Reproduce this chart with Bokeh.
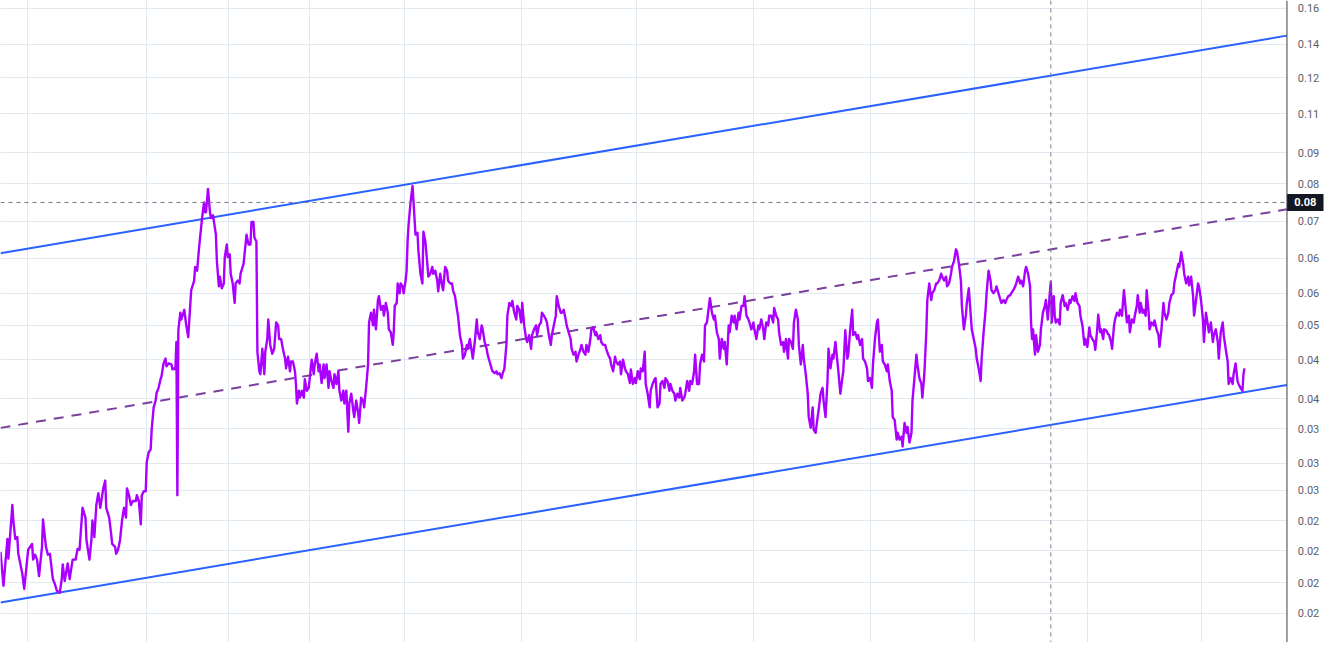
from bokeh.plotting import figure
from bokeh.models import Range1d, FixedTicker, Span, Grid, BoxAnnotation
from bokeh.core.properties import value
from bokeh.embed import file_html
from bokeh.resources import INLINE

# ---- price series (bar index, price) ----
seg_a_bar = [0,3,7,8,12,13,15,17,18,22,24,27,28,32,33,35,37,39,42,43,46,48,50,53,55,57,60,62,63,65,
             68,70,73,76,78,80,83,86,87,90,92,93,95,97,99,101,103,104,106,107,110,112,113,116,117,119,121,123,125,127,
             128,130,132,134,137,138,140,142,143,145,147,148,150,152,153,155,157,158,160,162,163,165,167,168,170,173,174,176,177,178,
             179,180]
seg_a_price = [.02111,.01859,.02214,.02058,.02514,.02372,.02214,.02230,.02096,.01949,.01839,.02050,.02127,.02174,.02050,.02088,.02050,.01928,.02150,.02381,
               .02150,.02088,.02096,.01907,.01873,.01826,.01812,.01907,.02014,.01893,.02021,.01907,.02050,.02050,.02134,.02127,.02487,.02398,.02206,.02050,
               .02206,.02372,.02230,.02514,.02626,.02487,.02607,.02674,.02753,.02487,.02398,.02254,.02174,.02150,.02096,.02127,.02206,.02372,.02487,.02398,
               .02674,.02607,.02514,.02551,.02551,.02607,.02551,.02338,.02607,.02645,.02645,.02950,.03059,.03093,.03326,.03616,.03709,.03819,.03889,.04018,
               .04062,.04259,.04337,.04213,.04259,.04243,.04167,.04182,.04167,.04614,.02607,.04820]

seg_b_bar = [182,183,186,188,190,192,193,196,197,199,201,203,204,206,207,208,210,212,213,215,
             217,218,219,221,222,224,226,227,229,230,232,233,235,237,238,240,242,243,246,247,249,251,253,254,256,257,259]
seg_b_price = [.05146,.05017,.05202,.04908,.04699,.05278,.05595,.05801,.06104,.06016,.06565,.07061,.07322,.07761,.07483,.07483,.08165,.07483,.07322,.07402,
               .07061,.06883,.06239,.05677,.05886,.05636,.05739,.06331,.06637,.06331,.06400,.05951,.05739,.05336,.05739,.05801,.05739,.05951,.06171,.06400,
               .06883,.06637,.06637,.07216,.07216,.06808,.06710]

seg_c_bar = [260,262,263,265,267,268,270,271,273,275,277,279,281,282,284,286,288,289,291,293,
             294,296,298,299,300,302,303,305,307,308,310,312,313,315,317,318,320,322,323,325,
             327,328,330,332,333,335,337,338,340,342,343,345,347,348,350,352,353,355,357,358,
             360,362,363,365,367,368,370,372,373,375,377,378,380,382,383,385,387,388,390,392,
             393,395,397,398,399,401,402,404,405,407,408,410,411,412,413,415,417]
seg_c_price = [.04449,.04137,.04092,.04498,.04092,.04449,.04665,.05017,.04564,.04417,.04498,.04962,.04908,.04665,.04665,.04482,.04337,.04182,.04369,.04137,
               .04290,.04290,.04137,.03946,.03669,.03847,.03750,.03847,.03750,.04018,.03847,.03889,.04033,.04321,.04092,.04243,.04417,.04137,.04243,.03960,
               .04243,.04033,.04243,.03889,.04137,.03989,.03889,.04092,.03946,.04137,.03847,.03709,.03847,.03669,.03847,.03302,.03669,.03805,.03577,.03487,
               .03709,.03538,.03412,.03750,.03709,.03616,.03889,.04243,.04962,.05146,.04908,.05202,.04837,.05395,.05474,.05202,.05278,.05090,.05336,.05146,
               .04837,.04785,.04564,.04785,.05278,.05336,.05739,.05534,.05739,.05677,.05534,.05801,.06016,.06710,.07138,.07761,.08255]

seg_d_bar = [418,420,422,423,425,427,428,430,432,433,435,437,438,440,442,443,445,447,448,450,
             452,453,455,457,458,460,462,463,465,467,468,470,472,473,475,477,478,480,482,483,
             485,487,488,490,492,493,495,497,498,500,502,503,505,507,508,510,512,513,515,517,
             518,520,522,523,525,527,528,530,532,533,535,537,538,540,542,543,545,547,548,550,
             552,553,555,557,558,560,562,563,565,567,568,570,572,573,575,577,578,580,582,583,
             585,587,588,590,592,593,595,597,598,600,602,603,605,607,608,610,612,613,615,617,618]
seg_d_price = [.07789,.06883,.06933,.06470,.05951,.05739,.06959,.06710,.06171,.05886,.05951,.06104,.05951,.06016,.05801,.05574,.05951,.05677,.05595,.06104,
               .06016,.05801,.05739,.05739,.05595,.05474,.05202,.05090,.04733,.04564,.04337,.04401,.04564,.04498,.04665,.04449,.04337,.04614,.05017,.04785,
               .04665,.04908,.04837,.04614,.04498,.04401,.04290,.04182,.04137,.04107,.04137,.04092,.04107,.04033,.04092,.04182,.04564,.05090,.05336,.05278,
               .05375,.05146,.05017,.05278,.05202,.04962,.05336,.04908,.04665,.04614,.04733,.04498,.04733,.04837,.04908,.04733,.04908,.04962,.05146,.05090,
               .05017,.04962,.04733,.04564,.04733,.04908,.05090,.05474,.05278,.05146,.05146,.05202,.05017,.04908,.04785,.04665,.04498,.04401,.04449,.04290,
               .04401,.04498,.04564,.04449,.04401,.04564,.04449,.04665,.04837,.04873,.04733,.04785,.04665,.04733,.04614,.04564,.04564,.04498,.04401,.04337,.04243]

seg_e_bar = [620,622,623,625,627,628,630,632,633,635,637,638,640,642,643,645,647,648,650,652,
             653,655,657,658,660,662,663,665,667,668,670,672,673,675,677,678,680,682,683,685,
             687,688,690,692,693,695,697,698,700,702,703,705,707,708,710,712,713,715,717,718,
             720,722,723,725,727,728,730,732,733,735,737,738,740,742,743,745,747,748,750,752,
             753,754,755,757,758,760,762,763,765,767,768,770,772,773,775,777,778,780,782,783,
             785,787,788,790,792,793,795,797,798,800,802,803,805,807,808,810,812,813,815,817,
             818,820,822,823,825,827,828,830,832,833,835,837,838,840,842,843,845,847,848,850,
             852,853,855,857,858,860]
seg_e_price = [.04137,.04369,.04290,.04243,.04290,.04092,.04321,.04182,.04137,.04092,.03960,.04167,.03946,.04033,.03960,.04137,.04018,.04182,.04137,.04449,
               .03946,.03805,.03616,.03847,.03946,.04018,.04033,.03616,.03669,.03946,.03989,.03889,.04033,.03989,.03847,.03946,.03847,.03805,.03709,.03805,
               .03750,.03889,.03709,.03750,.03805,.03989,.03847,.03989,.03946,.04137,.04401,.03946,.03946,.04243,.04401,.04290,.04908,.04962,.05278,.05434,
               .05146,.05017,.05090,.04785,.04665,.04337,.04665,.04498,.04614,.04243,.04908,.04785,.05090,.04962,.05090,.04837,.05146,.05017,.05278,.05278,
               .05474,.05278,.05090,.05017,.04962,.04837,.04962,.04837,.04665,.04908,.04837,.05017,.04837,.04665,.04962,.04908,.05090,.05090,.04962,.05240,
               .05090,.05017,.04785,.04564,.04614,.04449,.04665,.04337,.04665,.04614,.04498,.04962,.05202,.05017,.04564,.04243,.04564,.04337,.04092,.03805,
               .03487,.03350,.03616,.03326,.03290,.03487,.03577,.03805,.03889,.03709,.03487,.03989,.04498,.04182,.04401,.04337,.04614,.04290,.04137,.03805,
               .04033,.04137,.04820,.04337,.04401,.04837]

seg_f_bar = [862,863,865,867,868,870,872,873,875,877,878,880,882,883,885,887,888,890,892,893,
             895,897,898,900,902,903,905,907,908,910,912,913,915,917,918,920,922,923,925,927,
             928,930,932,933,935,937,938,940,942,943,945,947,948,950,952,953,955,957,958,960,
             962,963,965,967,968,970,972,973,975,977,978,980,982,983,985,987,988,990,992,993,
             995,997,998,1000,1002,1003,1005,1007,1008,1010,1012,1013,1015,1017,1018,1020,1022,1023,1025,1027,
             1028,1030,1032,1033,1035,1037,1038,1040]
seg_f_price = [.05202,.04733,.04785,.04665,.04733,.04564,.04665,.04337,.04290,.04182,.03989,.04033,.03889,.04243,.04665,.04962,.05017,.04449,.04564,.04290,
               .04243,.04137,.04243,.03989,.03847,.03487,.03449,.03207,.03290,.03207,.03242,.03126,.03412,.03290,.03362,.03172,.03290,.03709,.04033,.04401,
               .04243,.04033,.03946,.03750,.04092,.04785,.05395,.05739,.05395,.05534,.05595,.05739,.05739,.05801,.05951,.05886,.05801,.05886,.05677,.05739,
               .05951,.06104,.06239,.06517,.06470,.06171,.05801,.05278,.04837,.05090,.05336,.05636,.05090,.04837,.04665,.04498,.04337,.04182,.03989,.04337,
               .04785,.05202,.05534,.06016,.05801,.05595,.05534,.05595,.05677,.05534,.05395,.05336,.05395,.05336,.05395,.05474,.05494,.05534,.05595,.05677,
               .05739,.05886,.05739,.05801,.05677,.06016,.06104,.05951]

seg_g_bar = [1042,1043,1044,1045,1047,1048,1050,1052,1053,1055,1057,1058,1060,1062,1063,1064,1066,1067,1068,1070,
             1072,1073,1075,1077,1078,1080,1082,1083,1085,1087,1088,1090,1092,1093,1095,1097,1098,1100,1102,1103,
             1105,1107,1108,1110,1111,1113,1114,1116,1117,1119,1121,1122,1124,1125,1127,1128,1130,1132,1133,1135,
             1137,1138,1140,1142,1143,1145,1147,1148,1150,1151,1153,1154,1156,1157,1159,1160,1162,1163,1165,1167,
             1168,1170,1172,1173,1175,1177,1178,1180,1182,1183,1185,1187,1188,1190,1192,1193,1195,1197,1198,1200,
             1202,1203,1205,1207,1208,1210,1212,1213,1215,1217,1218,1220,1222,1223,1225,1227,1228,1230,1232,1233,
             1235,1237,1238,1240,1242,1243,1245,1247,1248,1250,1252,1253,1255,1257,1258,1259]
seg_g_price = [.05677,.04962,.04665,.04837,.04401,.04733,.04449,.04564,.04837,.05146,.05278,.05395,.05017,.05534,.05780,.04962,.05474,.05090,.04962,.05017,
               .04926,.05336,.05494,.05278,.05336,.05202,.05395,.05336,.05474,.05375,.05534,.05336,.05278,.05090,.04908,.04564,.04665,.04531,.04873,.04733,
               .04665,.04614,.04482,.04837,.05109,.04785,.04837,.04665,.04837,.04820,.04750,.04733,.04614,.04498,.04908,.05017,.05146,.05090,.05202,.05090,
               .05595,.05395,.04962,.05090,.04785,.05017,.04962,.05090,.05278,.05494,.05146,.05336,.05146,.05202,.05090,.05595,.05146,.04837,.04962,.04908,
               .04999,.04837,.04733,.04531,.04837,.05336,.05146,.05017,.05146,.05336,.05494,.05534,.05739,.05951,.06171,.06104,.06447,.06171,.05951,.05739,
               .05886,.05697,.05886,.05474,.05090,.05395,.05739,.05677,.05395,.05017,.04614,.05146,.04908,.04785,.04962,.04614,.04733,.04837,.04614,.04337,
               .04785,.04962,.04733,.04498,.04290,.03946,.04033,.03946,.04092,.04259,.03989,.03946,.03889,.03847,.04092,.04182]

# ---- channel lines (anchor bars and prices) ----
upper_channel_bar = [0, 1302]
upper_channel_price = [0.06423, 0.14453]
lower_channel_bar = [0, 1302]
lower_channel_price = [0.01748, 0.03931]
mid_channel_bar = [0, 1302]
mid_channel_price = [0.03350, 0.07565]

# ---- axis ticks ----
price_ticks = [0.16002, 0.13987, 0.12360, 0.10804, 0.09342, 0.08316, 0.07242, 0.06308, 0.05530,
               0.04908, 0.04321, 0.03737, 0.03338, 0.02939, 0.02655, 0.02372, 0.02119, 0.01880, 0.01679]
price_tick_labels = ["%.2f" % v for v in price_ticks]
time_ticks = [27, 148, 231, 313, 409, 527, 644, 762, 881, 986, 1100, 1216]

# ---- crosshair ----
cross_bar = 1063
cross_price = 0.0776
cross_text = "0.08"

# ---- view / layout constants ----
bar_range = (0, 1340)
price_range = (0.015055, 0.16474)
axis_bar = 1302          # where the price scale begins
label_bar = 1313         # left edge of the price labels
badge_center = 1320.5
badge_width = 37

FONT = "Roboto"

segments = [(seg_a_bar, seg_a_price), (seg_b_bar, seg_b_price), (seg_c_bar, seg_c_price),
            (seg_d_bar, seg_d_price), (seg_e_bar, seg_e_price), (seg_f_bar, seg_f_price),
            (seg_g_bar, seg_g_price)]
bars, prices = [], []
for sb, sp in segments:
    assert len(sb) == len(sp), (sb[0], len(sb), len(sp))
    bars += sb
    prices += sp

p = figure(width=1324, height=642, y_axis_type="log",
           x_axis_location=None, y_axis_location=None,
           output_backend="svg", toolbar_location=None,
           x_range=Range1d(*bar_range), y_range=Range1d(*price_range),
           min_border_left=0, min_border_right=0, min_border_top=0, min_border_bottom=0)
p.outline_line_color = None
p.background_fill_color = "white"
p.border_fill_color = "white"
p.grid.visible = False

grid_color = "#e0e8f0"
p.add_layout(Grid(dimension=0, ticker=FixedTicker(ticks=time_ticks, minor_ticks=[]),
                  grid_line_color=grid_color))
p.add_layout(Grid(dimension=1, ticker=FixedTicker(ticks=price_ticks, minor_ticks=[]),
                  grid_line_color=grid_color))
# blank price-scale area right of the axis line
p.add_layout(BoxAnnotation(left=axis_bar, fill_color="white", fill_alpha=1.0,
                           line_color=None, level="underlay"))

p.line(upper_channel_bar, upper_channel_price, line_color="#2962ff", line_width=2)
p.line(lower_channel_bar, lower_channel_price, line_color="#2962ff", line_width=2)
p.line(mid_channel_bar, mid_channel_price, line_color="#7b3f9e", line_width=2, line_dash="10 8")

p.line(bars, prices, line_color="#aa00ff", line_width=2.4, line_join="round")

# crosshair
p.segment(x0=[bar_range[0]], y0=[cross_price], x1=[axis_bar], y1=[cross_price],
          line_color="#787b86", line_width=1, line_dash="4 4")
p.add_layout(Span(location=cross_bar, dimension="height", line_color="#787b86",
                  line_width=1, line_dash="4 4"))

# price scale
p.add_layout(Span(location=axis_bar, dimension="height", line_color="#3b3f4a", line_width=1))
p.text(x=[label_bar] * len(price_ticks), y=price_ticks, text=price_tick_labels,
       text_align="left", text_baseline="middle", text_font=value(FONT),
       text_font_size="11px", text_color="#5d606b")

# crosshair price badge
p.rect(x=[badge_center], y=[cross_price], width=badge_width, height=17, height_units="screen",
       fill_color="#131722", line_color=None)
p.text(x=[badge_center], y=[cross_price], text=[cross_text], text_align="center",
       text_baseline="middle", text_font=value(FONT), text_font_size="11px",
       text_font_style="bold", text_color="white")

open("out.html", "w").write(file_html(p, INLINE))
